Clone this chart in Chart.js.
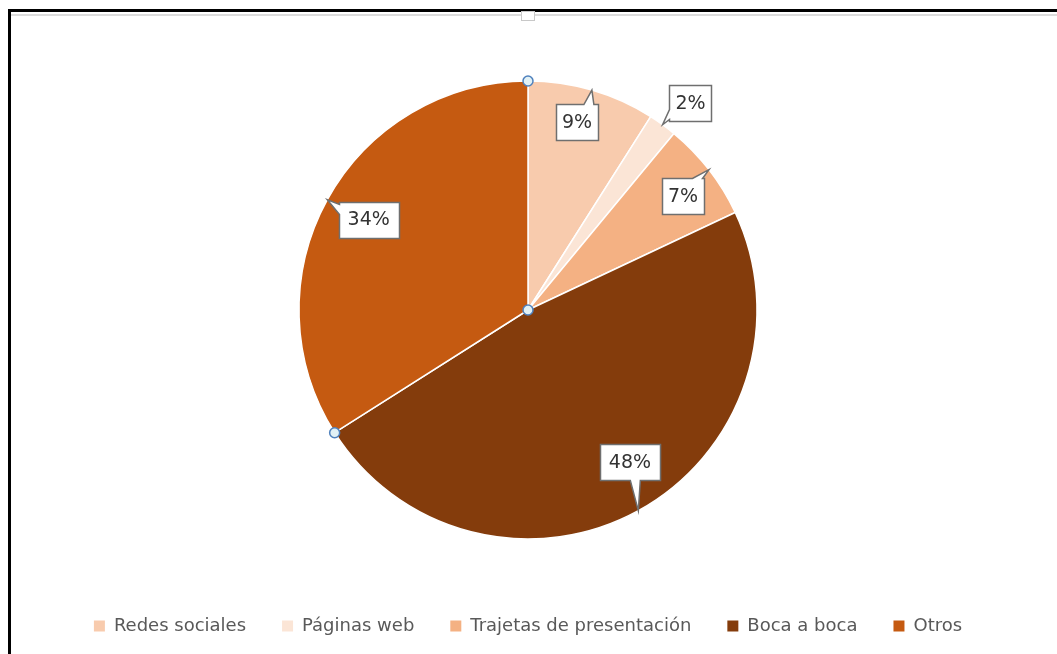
<!DOCTYPE html>
<html>
<head>
<meta charset="utf-8">
<script src="https://cdn.jsdelivr.net/npm/chart.js@4"></script>
<style>
  html, body { margin: 0; padding: 0; background: #fff; overflow: hidden; }
  body { width: 1057px; height: 654px; position: relative; }
  .frame { position: absolute; left: 8px; top: 9px; width: 1100px; height: 700px;
           border-left: 3px solid #000; border-top: 3px solid #000; }
  .frame-inner { position: absolute; left: 11px; top: 14px; width: 1100px; height: 0;
                 border-top: 2px solid #dcdcdc; }
  .grip { position: absolute; left: 521px; top: 11px; width: 12px; height: 8px;
          background: #fff; border: 1px solid #c8c8c8; }
  #wrap { position: absolute; left: 0; top: 0; width: 1056px; height: 645px; }
</style>
</head>
<body>
<div class="frame"></div>
<div class="frame-inner"></div>
<div class="grip"></div>
<div id="wrap"><canvas id="pie"></canvas></div>
<script>
// categorías y porcentajes
const categorias = ['Redes sociales', 'Páginas web', 'Trajetas de presentación', 'Boca a boca', 'Otros'];
const porcentajes = [9, 2, 7, 48, 34];
const colores = ['#F8CBAD', '#FBE5D6', '#F4B183', '#843C0C', '#C55A11'];

// posición de cada globo: giro respecto al ángulo medio (grados) y fracción del radio
const globos = [
  { giro: -1.6, dist: 0.85 },
  { giro: 2.1, dist: 1.15 },
  { giro: 1.5, dist: 0.84 },
  { giro: -5, dist: 0.80 },
  { giro: 0.8, dist: 0.80 }
];

// rectángulo con pico hacia la punta
function globoPath(ctx, x0, y0, x1, y1, tx, ty) {
  const dx = tx < x0 ? x0 - tx : (tx > x1 ? tx - x1 : 0);
  const dy = ty < y0 ? y0 - ty : (ty > y1 ? ty - y1 : 0);
  let lado;
  if (dy >= dx) lado = ty < y0 ? 'top' : 'bottom';
  else lado = tx < x0 ? 'left' : 'right';
  const w = 10;
  const bx = Math.min(Math.max(tx - 8, x0 + 2), x1 - 2 - w);
  const by = Math.min(Math.max(ty - 8, y0 + 2), y1 - 2 - w);
  ctx.beginPath();
  ctx.moveTo(x0, y0);
  if (lado === 'top') { ctx.lineTo(bx, y0); ctx.lineTo(tx, ty); ctx.lineTo(bx + w, y0); }
  ctx.lineTo(x1, y0);
  if (lado === 'right') { ctx.lineTo(x1, by); ctx.lineTo(tx, ty); ctx.lineTo(x1, by + w); }
  ctx.lineTo(x1, y1);
  if (lado === 'bottom') { ctx.lineTo(bx + w, y1); ctx.lineTo(tx, ty); ctx.lineTo(bx, y1); }
  ctx.lineTo(x0, y1);
  if (lado === 'left') { ctx.lineTo(x0, by + w); ctx.lineTo(tx, ty); ctx.lineTo(x0, by); }
  ctx.closePath();
}

const etiquetas = {
  id: 'etiquetas',
  afterDatasetsDraw(chart) {
    const ctx = chart.ctx;
    const arcs = chart.getDatasetMeta(0).data;
    ctx.save();
    ctx.font = '19px "DejaVu Sans", sans-serif';
    ctx.textAlign = 'center';
    ctx.textBaseline = 'middle';
    arcs.forEach((arc, i) => {
      const mid = (arc.startAngle + arc.endAngle) / 2;
      const r = arc.outerRadius;
      const tx = arc.x + Math.cos(mid) * r;
      const ty = arc.y + Math.sin(mid) * r;
      const a = mid + globos[i].giro * Math.PI / 180;
      const cx = arc.x + Math.cos(a) * r * globos[i].dist;
      const cy = arc.y + Math.sin(a) * r * globos[i].dist;
      const texto = porcentajes[i] + '%';
      const bw = texto.length > 2 ? 60 : 42;
      const bh = 36;
      globoPath(ctx, Math.round(cx - bw / 2) + 0.5, Math.round(cy - bh / 2) + 0.5,
        Math.round(cx + bw / 2) + 0.5, Math.round(cy + bh / 2) + 0.5, tx, ty);
      ctx.fillStyle = '#fff';
      ctx.fill();
      ctx.lineWidth = 1.5;
      ctx.strokeStyle = '#6f6f6f';
      ctx.stroke();
      ctx.fillStyle = '#333333';
      ctx.fillText(texto, cx, cy + 1);
    });

    // puntos de selección del sector "Otros"
    const sel = arcs[4];
    const puntos = [
      [sel.x, sel.y],
      [sel.x + Math.cos(sel.startAngle) * sel.outerRadius, sel.y + Math.sin(sel.startAngle) * sel.outerRadius],
      [sel.x + Math.cos(sel.endAngle) * sel.outerRadius, sel.y + Math.sin(sel.endAngle) * sel.outerRadius]
    ];
    puntos.forEach(([px, py]) => {
      ctx.beginPath();
      ctx.arc(px, py, 5, 0, Math.PI * 2);
      ctx.fillStyle = '#e2f1f5';
      ctx.fill();
      ctx.lineWidth = 1.5;
      ctx.strokeStyle = '#4f81bd';
      ctx.stroke();
    });
    ctx.restore();
  }
};

const genLabels = Chart.overrides.pie.plugins.legend.labels.generateLabels;

new Chart(document.getElementById('pie'), {
  type: 'pie',
  data: {
    labels: categorias,
    datasets: [{
      data: porcentajes,
      backgroundColor: colores,
      borderColor: '#ffffff',
      borderWidth: 1.5,
      radius: 229
    }]
  },
  options: {
    responsive: true,
    maintainAspectRatio: false,
    animation: false,
    layout: { padding: { top: 39, bottom: 0 } },
    plugins: {
      tooltip: { enabled: false },
      legend: {
        position: 'bottom',
        labels: {
          boxWidth: 11,
          boxHeight: 11,
          padding: 36,
          color: '#595959',
          font: { family: '"DejaVu Sans", sans-serif', size: 18 },
          generateLabels(chart) {
            return genLabels(chart).map(l => Object.assign(l, { lineWidth: 0, strokeStyle: 'transparent' }));
          }
        }
      }
    }
  },
  plugins: [etiquetas]
});
</script>
</body>
</html>
